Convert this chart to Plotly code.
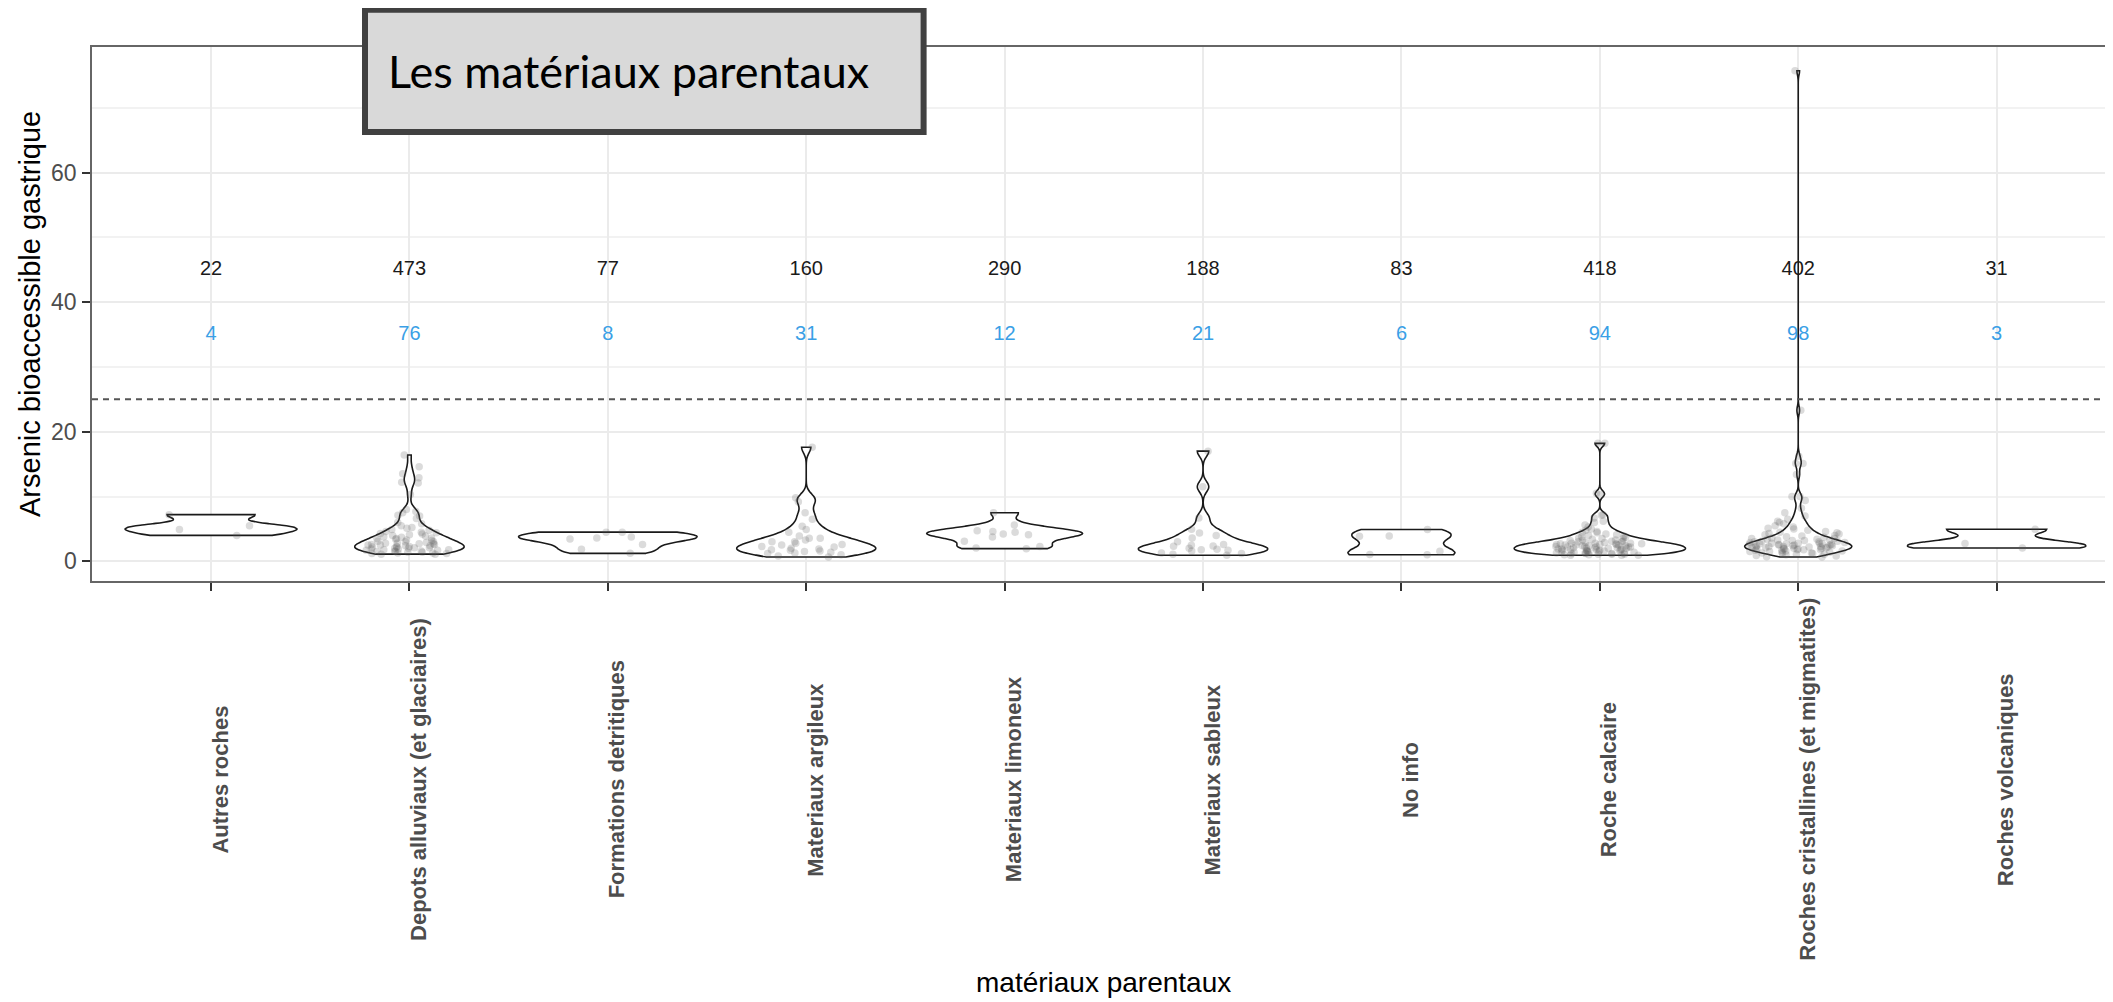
import numpy as np
import plotly.graph_objects as go

# ---------------- data ----------------
categories = [
    "Autres roches",
    "Depots alluviaux (et glaciaires)",
    "Formations detritiques",
    "Materiaux argileux",
    "Materiaux limoneux",
    "Materiaux sableux",
    "No info",
    "Roche calcaire",
    "Roches cristallines (et migmatites)",
    "Roches volcaniques",
]
n_total = [22, 473, 77, 160, 290, 188, 83, 418, 402, 31]
n_measured = [4, 76, 8, 31, 12, 21, 6, 94, 98, 3]

autres_roches = [7.2, 5.5, 4.9, 4.0]
depots_alluviaux = [16.4, 14.6, 13.5, 12.9, 12.2, 12.1, 10.3, 8.0, 7.7, 7.5,
                    7.1, 7.0, 6.6, 6.0, 5.8, 5.5, 5.2, 5.1, 4.9, 4.8,
                    4.6, 4.5, 4.4, 4.3, 4.2, 4.1, 4.0, 3.9, 3.8, 3.7,
                    3.6, 3.5, 3.5, 3.4, 3.3, 3.2, 3.1, 3.0, 3.0, 2.9,
                    2.8, 2.8, 2.7, 2.7, 2.6, 2.6, 2.5, 2.5, 2.4, 2.4,
                    2.3, 2.3, 2.2, 2.2, 2.1, 2.1, 2.0, 2.0, 1.9, 1.9,
                    1.8, 1.8, 1.7, 1.7, 1.6, 1.6, 1.5, 1.5, 1.4, 1.4,
                    1.3, 1.3, 1.2, 1.2, 1.1, 1.1]
formations_detritiques = [4.5, 4.5, 3.75, 3.6, 3.44, 2.6, 1.85, 1.23]
materiaux_argileux = [17.6, 9.8, 9.2, 7.5, 6.5, 5.4, 4.9, 4.5, 3.9, 3.55,
                      3.55, 3.3, 3.0, 3.0, 2.8, 2.6, 2.5, 2.3, 2.2, 2.0,
                      1.9, 1.8, 1.7, 1.6, 1.5, 1.4, 1.3, 1.2, 1.0, 0.8, 0.66]
materiaux_limoneux = [7.5, 5.6, 4.7, 4.6, 4.5, 4.2, 4.1, 3.75, 3.1, 2.3, 2.05, 1.95]
materiaux_sableux = [17.0, 11.5, 6.7, 4.94, 4.37, 3.97, 3.6, 3.0, 2.58, 2.47,
                     2.36, 2.31, 2.0, 1.85, 1.8, 1.7, 1.6, 1.3, 1.19, 1.08, 0.93]
no_info = [4.9, 3.9, 3.85, 1.55, 1.05, 1.0]
roche_calcaire = [18.2, 18.2, 10.5, 10.3, 7.2, 7.1, 6.7, 6.2, 6.0, 5.6,
                  5.3, 5.0, 4.8, 4.6, 4.5, 4.4, 4.2, 4.1, 4.0, 3.9,
                  3.8, 3.7, 3.6, 3.5, 3.5, 3.4, 3.3, 3.3, 3.2, 3.1,
                  3.1, 3.0, 3.0, 2.9, 2.9, 2.8, 2.8, 2.8, 2.7, 2.7,
                  2.7, 2.6, 2.6, 2.6, 2.5, 2.5, 2.5, 2.4, 2.4, 2.4,
                  2.3, 2.3, 2.3, 2.2, 2.2, 2.2, 2.1, 2.1, 2.1, 2.0,
                  2.0, 2.0, 1.9, 1.9, 1.9, 1.8, 1.8, 1.8, 1.7, 1.7,
                  1.7, 1.6, 1.6, 1.6, 1.5, 1.5, 1.5, 1.4, 1.4, 1.4,
                  1.3, 1.3, 1.3, 1.2, 1.2, 1.2, 1.1, 1.1, 1.1, 1.0,
                  1.0, 0.95, 0.95, 0.93]
roches_cristallines = [75.7, 23.3, 16.2, 15.1, 15.1, 13.4, 10.0, 10.0, 9.4, 8.2,
                       7.5, 7.0, 6.5, 6.2, 6.0, 5.8, 5.5, 5.3, 5.1, 5.0,
                       4.8, 4.6, 4.5, 4.4, 4.3, 4.2, 4.1, 4.0, 3.9, 3.8,
                       3.7, 3.6, 3.5, 3.5, 3.4, 3.4, 3.3, 3.3, 3.2, 3.2,
                       3.1, 3.1, 3.0, 3.0, 2.9, 2.9, 2.8, 2.8, 2.8, 2.7,
                       2.7, 2.7, 2.6, 2.6, 2.6, 2.5, 2.5, 2.5, 2.4, 2.4,
                       2.4, 2.3, 2.3, 2.3, 2.2, 2.2, 2.2, 2.1, 2.1, 2.1,
                       2.0, 2.0, 2.0, 1.9, 1.9, 1.9, 1.8, 1.8, 1.8, 1.7,
                       1.7, 1.6, 1.6, 1.5, 1.5, 1.4, 1.4, 1.3, 1.3, 1.2,
                       1.2, 1.1, 1.1, 1.0, 0.9, 0.8, 0.7, 0.66]
roches_volcaniques = [4.94, 2.73, 2.06]

values = [autres_roches, depots_alluviaux, formations_detritiques, materiaux_argileux,
          materiaux_limoneux, materiaux_sableux, no_info, roche_calcaire,
          roches_cristallines, roches_volcaniques]

threshold = 25
y_ticks = [0, 20, 40, 60]
y_minor = [10, 30, 50, 70]

title_text = "Les matériaux parentaux"
x_title = "matériaux parentaux"
y_title = "Arsenic bioaccessible gastrique"

# ---------------- style / geometry ----------------
# maximum violin widths (category units), as drawn in the reference
violin_widths = [0.867, 0.55, 0.90, 0.70, 0.786, 0.65, 0.54, 0.862, 0.54, 0.897]

OFF = 8                          # default page body margin
W, H = 2113 - OFF, 1002 - OFF    # figure size
L, T, BOT = 92, 47, 581          # plot panel, in screen pixels
PW, PH = 2113 - L, BOT - T
PX_PER_CAT = 198.4


def px_x(p):
    return (p - L) / PW


def px_y(p):
    return (BOT - p) / PH


def nrd0(x):
    x = np.asarray(x, float)
    hi = np.std(x, ddof=1)
    q75, q25 = np.percentile(x, [75, 25])
    lo = min(hi, (q75 - q25) / 1.34)
    if lo == 0:
        lo = hi if hi > 0 else 1.0
    return 0.9 * lo * len(x) ** -0.2


fig = go.Figure()

for cat, v, w in zip(categories, values, violin_widths):
    fig.add_trace(go.Violin(
        x=[cat] * len(v), y=v, width=w, bandwidth=nrd0(v), spanmode="hard",
        scalemode="width", points=False, fillcolor="white",
        line=dict(color="#1a1a1a", width=1.6), showlegend=False,
        hoverinfo="skip",
    ))

for cat, v in zip(categories, values):
    fig.add_trace(go.Box(
        x=[cat] * len(v), y=v, width=0.5, boxpoints="all", jitter=1, pointpos=0,
        fillcolor="rgba(0,0,0,0)", line=dict(color="rgba(0,0,0,0)", width=0),
        marker=dict(size=7.5, color="rgba(90,90,90,0.22)", line=dict(width=0)),
        showlegend=False, hoverinfo="skip",
    ))

fig.add_trace(go.Scatter(
    x=categories, y=[45] * len(categories), mode="text",
    text=[str(n) for n in n_total],
    textfont=dict(family="Liberation Sans, Arial, sans-serif", size=20, color="#1a1a1a"),
    showlegend=False, hoverinfo="skip",
))
fig.add_trace(go.Scatter(
    x=categories, y=[35] * len(categories), mode="text",
    text=[str(n) for n in n_measured],
    textfont=dict(family="Liberation Sans, Arial, sans-serif", size=20, color="#3A9FE6"),
    showlegend=False, hoverinfo="skip",
))

annotations = []
for cat in categories:
    annotations.append(dict(
        x=cat, xref="x", y=px_y(779.5), yref="paper", text=cat, showarrow=False,
        textangle=-90, xanchor="center", yanchor="middle", xshift=9,
        font=dict(family="Liberation Sans, Arial, sans-serif", size=22, color="#4D4D4D", weight="bold"),
    ))
for t in y_ticks:
    annotations.append(dict(
        x=px_x(79), xref="paper", y=t, yref="y", text=str(t), showarrow=False,
        xanchor="right", yanchor="middle",
        font=dict(family="Liberation Sans, Arial, sans-serif", size=23, color="#4D4D4D"),
    ))
annotations.append(dict(
    x=px_x(1103), y=px_y(983), xref="paper", yref="paper", text=x_title, showarrow=False,
    xanchor="center", yanchor="middle",
    font=dict(family="Liberation Sans, Arial, sans-serif", size=28, color="black"),
))
annotations.append(dict(
    x=px_x(30), y=px_y(314), xref="paper", yref="paper", text=y_title, showarrow=False,
    textangle=-90, xanchor="center", yanchor="middle",
    font=dict(family="Liberation Sans, Arial, sans-serif", size=29, color="black"),
))
annotations.append(dict(
    x=px_x(386), y=px_y(71), xref="paper", yref="paper", text=title_text, showarrow=False,
    xanchor="left", yanchor="middle",
    font=dict(family="Lato, 'Open Sans', sans-serif", size=45, color="black"),
))

shapes = [
    dict(type="line", xref="paper", x0=0, x1=1, yref="y", y0=threshold, y1=threshold,
         line=dict(color="#555555", width=2, dash="6px,5px"), layer="above"),
    dict(type="rect", xref="paper", yref="paper",
         x0=px_x(365), x1=px_x(923.6), y0=px_y(132), y1=px_y(9.7),
         fillcolor="#D9D9D9", line=dict(color="#404040", width=6), layer="above"),
]

fig.update_layout(
    width=W, height=H,
    margin=dict(l=L - OFF, r=0, t=T - OFF, b=H - (BOT - OFF), pad=0),
    paper_bgcolor="white", plot_bgcolor="white",
    violinmode="overlay", boxmode="overlay",
    showlegend=False,
    annotations=annotations, shapes=shapes,
    xaxis=dict(
        type="category", categoryorder="array", categoryarray=categories,
        range=[-0.6, PW / PX_PER_CAT - 0.6],
        showgrid=True, gridcolor="#EBEBEB", gridwidth=2,
        showline=True, linecolor="#666666", linewidth=2, mirror=True,
        ticks="outside", ticklen=8, tickwidth=2, tickcolor="#333333",
        showticklabels=False, zeroline=False,
    ),
    yaxis=dict(
        range=[-3.04, 79.37], tickvals=y_ticks,
        showgrid=True, gridcolor="#EBEBEB", gridwidth=2,
        minor=dict(tickvals=y_minor, showgrid=True, gridcolor="#F2F2F2", gridwidth=1.5, ticks=""),
        showline=True, linecolor="#666666", linewidth=2, mirror=False,
        ticks="outside", ticklen=8, tickwidth=2, tickcolor="#333333",
        showticklabels=False, zeroline=False,
    ),
)

fig.write_html("out.html")
